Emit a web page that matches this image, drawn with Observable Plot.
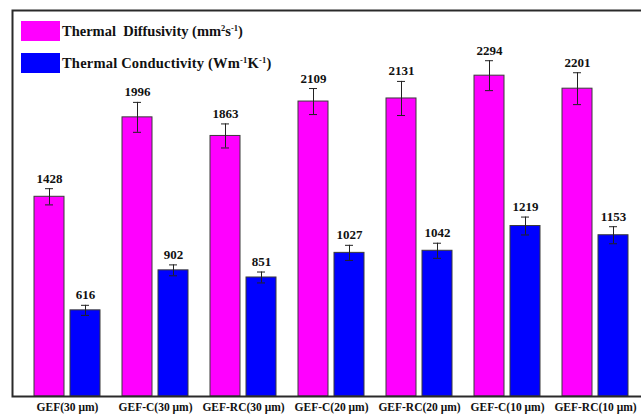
<!DOCTYPE html>
<html>
<head>
<meta charset="utf-8">
<script src="https://cdn.jsdelivr.net/npm/d3@7"></script>
<script src="https://cdn.jsdelivr.net/npm/@observablehq/plot@0.6"></script>
<style>
  html, body { margin: 0; padding: 0; background: #fff; }
  #wrap { position: relative; width: 641px; height: 414px; overflow: hidden; }
  #wrap svg { display: block; max-width: none !important; }
  #wrap svg text { font-family: "Liberation Serif", "Times New Roman", serif; }
  .leg { position: absolute; left: 21px; display: flex; align-items: center;
         font-family: "Liberation Serif", "Times New Roman", serif; font-weight: bold; font-size: 14.5px; color: #111; }
  .leg .sw { width: 39px; height: 20px; margin-right: 2px; }
  .leg sup { font-size: 8.5px; vertical-align: 5px; line-height: 0; }
</style>
</head>
<body>
<div id="wrap">
  <div class="leg" style="top:21px"><div class="sw" style="background:#ff00ff"></div><span>Thermal&nbsp; Diffusivity (mm<sup>2</sup>s<sup>-1</sup>)</span></div>
  <div class="leg" style="top:53px"><div class="sw" style="background:#0000ff"></div><span style="letter-spacing:0.2px">Thermal Conductivity (Wm<sup>-1</sup>K<sup>-1</sup>)</span></div>
</div>
<script>
const categories = ["GEF(30 μm)", "GEF-C(30 μm)", "GEF-RC(30 μm)", "GEF-C(20 μm)", "GEF-RC(20 μm)", "GEF-C(10 μm)", "GEF-RC(10 μm)"];
const diffusivity = [1428, 1996, 1863, 2109, 2131, 2294, 2201];
const diffusivityErr = [58, 107, 86, 93, 122, 107, 114];
const conductivity = [616, 902, 851, 1027, 1042, 1219, 1153];
const conductivityErr = [36, 39, 39, 54, 54, 64, 61];

const diff = categories.map((c, i) => ({cat: c, v: diffusivity[i], e: diffusivityErr[i]}));
const cond = categories.map((c, i) => ({cat: c, v: conductivity[i], e: conductivityErr[i]}));

const font = "Liberation Serif";
const off = 18;

function series(data, fill, side) {
  const dx = side === "L" ? -off : off;
  const barInset = side === "L" ? {insetRight: 36} : {insetLeft: 36};
  const capInset = side === "L" ? {insetLeft: 11, insetRight: 47} : {insetLeft: 47, insetRight: 11};
  return [
    Plot.barY(data, {x: "cat", y: "v", fill, stroke: "#3a3a3a", strokeWidth: 1, ...barInset}),
    Plot.ruleX(data, {x: "cat", y1: d => d.v - d.e, y2: d => d.v + d.e, dx, stroke: "#222", strokeWidth: 1}),
    Plot.tickY(data, {x: "cat", y: d => d.v + d.e, stroke: "#222", strokeWidth: 1, ...capInset}),
    Plot.tickY(data, {x: "cat", y: d => d.v - d.e, stroke: "#222", strokeWidth: 1, ...capInset}),
    Plot.text(data, {x: "cat", y: d => d.v + d.e, text: d => String(d.v), dx, dy: -6, lineAnchor: "bottom",
      fontFamily: font, fontWeight: "bold", fontSize: 13, fill: "#111"})
  ];
}

const chart = Plot.plot({
  width: 646,
  height: 414,
  marginLeft: 12,
  marginRight: 2,
  marginTop: 10,
  marginBottom: 18,
  style: {fontFamily: font, background: "transparent", maxWidth: "none"},
  x: {domain: categories, paddingInner: 0.254, paddingOuter: 0.198, align: 0.571, label: null},
  y: {domain: [0, 2760], axis: null},
  marks: [
    Plot.axisX({tickSize: 0, tickPadding: 6, fontSize: 11.5, fontWeight: "bold", fontFamily: font, fill: "#111", label: null}),
    ...series(diff, "#ff00ff", "L"),
    ...series(cond, "#0000ff", "R"),
    Plot.frame({stroke: "#2a2a2a", strokeWidth: 2})
  ]
});
document.getElementById("wrap").prepend(chart);
</script>
</body>
</html>
